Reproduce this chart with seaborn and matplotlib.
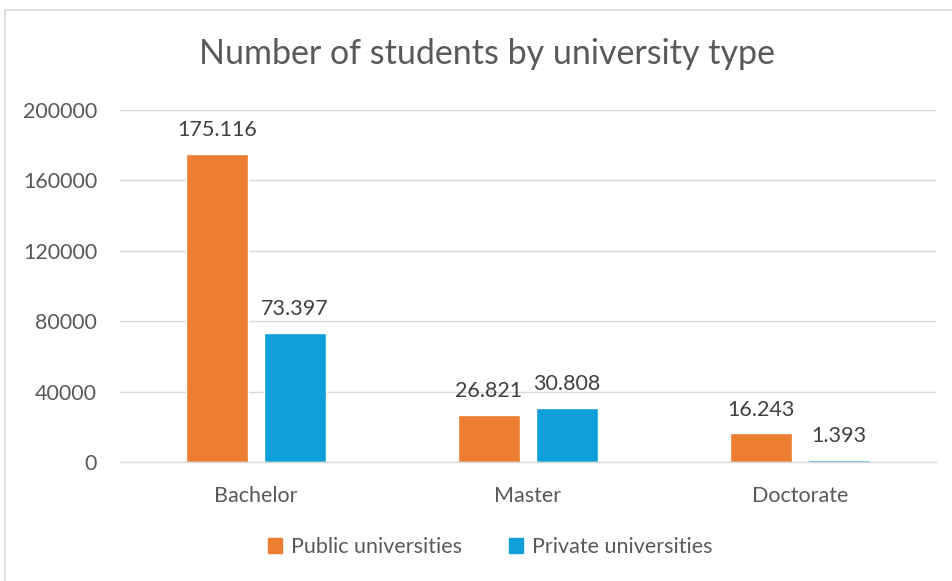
import matplotlib
matplotlib.use("Agg")
import matplotlib.pyplot as plt
import seaborn as sns
import pandas as pd
from matplotlib.patches import Rectangle

levels = ["Bachelor", "Master", "Doctorate"]
public = [175116, 26821, 16243]
private = [73397, 30808, 1393]
series = ["Public universities", "Private universities"]
yticks = [0, 40000, 80000, 120000, 160000, 200000]

df = pd.DataFrame({
    "level": levels * 2,
    "students": public + private,
    "type": [series[0]] * 3 + [series[1]] * 3,
})

sns.set_theme(style="white")
plt.rcParams["font.family"] = ["Lato", "DejaVu Sans"]
text_col = "#595959"
fs = 15.5

fig = plt.figure(figsize=(9.52, 5.81), dpi=100)
ax = fig.add_axes([120 / 952, 1 - 462 / 581, 816 / 952, 352 / 581])

sns.barplot(data=df, x="level", y="students", hue="type", hue_order=series,
            palette=["#ED7D31", "#0E9FD8"], width=0.574, gap=0.2,
            saturation=1, ax=ax, legend=False)

ax.set_ylim(0, 200000)
ax.set_xlim(-0.5, 2.5)
ax.set_yticks(yticks)
ax.set_yticklabels([str(t) for t in yticks])
ax.yaxis.grid(True, color="#D9D9D9", linewidth=1)
ax.set_axisbelow(True)
for s in ["left", "right", "top"]:
    ax.spines[s].set_visible(False)
ax.spines["bottom"].set_color("#D9D9D9")
ax.spines["bottom"].set_linewidth(1)
ax.tick_params(axis="both", length=0, labelsize=fs, colors=text_col)
ax.tick_params(axis="y", pad=16.5)
ax.tick_params(axis="x", pad=17)
ax.set_xlabel("")
ax.set_ylabel("")

for cont in ax.containers:
    labels = [f"{int(b.get_height()):,}".replace(",", ".") for b in cont]
    ax.bar_label(cont, labels=labels, padding=10, fontsize=fs, color="#404040")

fig.text(487 / 952, 1 - 54 / 581, "Number of students by university type",
         ha="center", va="center", fontsize=24.5, color=text_col)

# legend
handles = [Rectangle((0, 0), 1, 1, color=c) for c in ["#ED7D31", "#0E9FD8"]]
fig.legend(handles, series, loc="center", bbox_to_anchor=(490 / 952, 1 - 547 / 581),
           ncol=2, frameon=False, fontsize=fs, handlelength=0.65, handleheight=0.65,
           handletextpad=0.4, columnspacing=2.2, labelcolor=text_col)

# chart frame (cropped on right and bottom)
fig.add_artist(plt.Line2D([5 / 952, 5 / 952], [0, 1 - 10 / 581], color="#D9D9D9", lw=1.2))
fig.add_artist(plt.Line2D([5 / 952, 1], [1 - 10 / 581, 1 - 10 / 581], color="#D9D9D9", lw=1.2))

fig.savefig("out.png", dpi=100)
